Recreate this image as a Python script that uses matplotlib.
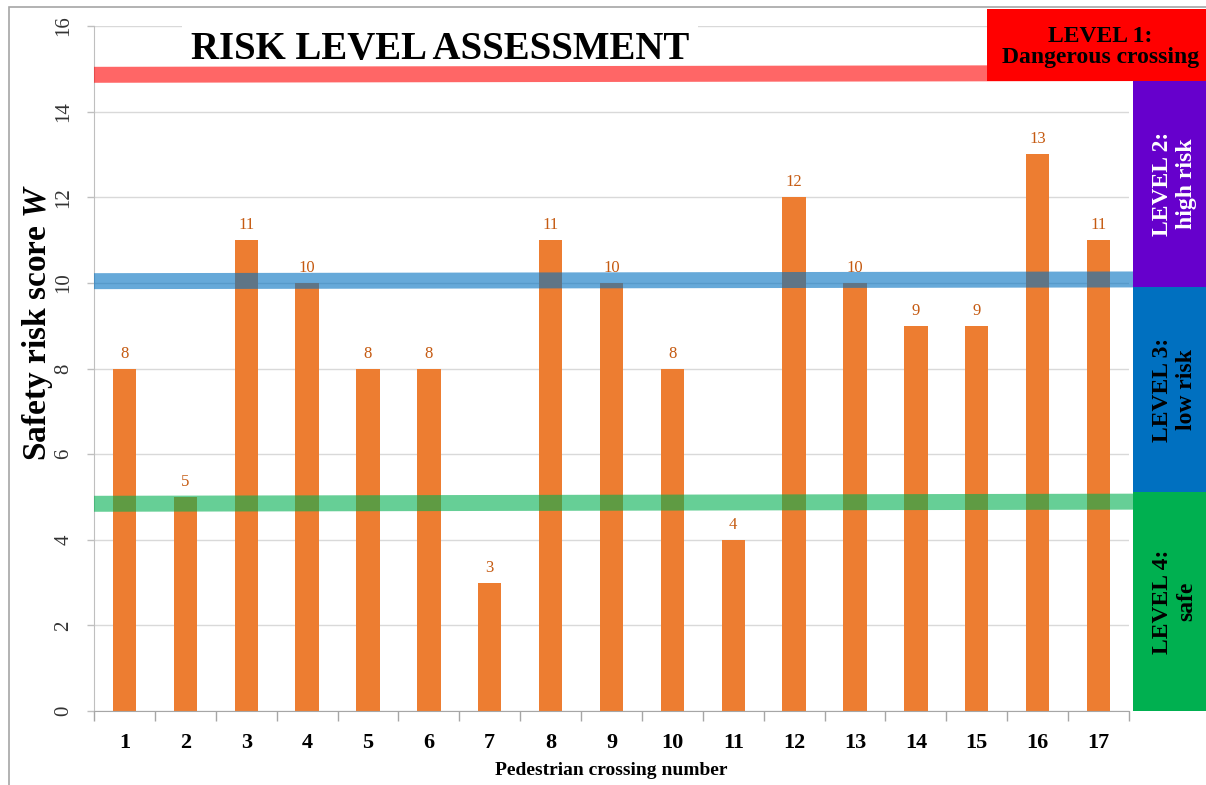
import matplotlib
matplotlib.use("Agg")
import matplotlib.pyplot as plt
from matplotlib.patches import Rectangle
from matplotlib.lines import Line2D

plt.rcParams['font.family'] = ['Liberation Serif', 'DejaVu Serif']
plt.rcParams['mathtext.fontset'] = 'custom'
plt.rcParams['mathtext.bfit'] = 'Liberation Serif:bold:italic'
plt.rcParams['mathtext.it'] = 'Liberation Serif:italic'
plt.rcParams['mathtext.bf'] = 'Liberation Serif:bold'
plt.rcParams['mathtext.rm'] = 'Liberation Serif'

# ---- data ----
crossings = [str(i) for i in range(1, 18)]
scores = [8, 5, 11, 10, 8, 8, 3, 11, 10, 8, 4, 12, 10, 9, 9, 13, 11]
y_ticks = [0, 2, 4, 6, 8, 10, 12, 14, 16]
# threshold bands (value at left end, value at right end)
red_line = (14.86, 14.90)
blue_line = (10.04, 10.08)
green_line = (4.84, 4.89)
level_labels = ["LEVEL 1:\nDangerous crossing", "LEVEL 2:\nhigh risk",
                "LEVEL 3:\nlow risk", "LEVEL 4:\nsafe"]

W, H = 1206, 785
fig = plt.figure(figsize=(W / 100, H / 100), dpi=100)

def fx(x):
    return x / W

def fy(y):
    return 1 - y / H

# figure border
fig.add_artist(Rectangle((fx(9), fy(800)), fx(1220) - fx(9), fy(7) - fy(800),
                         transform=fig.transFigure, fill=False,
                         edgecolor='#A6A6A6', linewidth=1.2, zorder=0))

ax = fig.add_axes([fx(94), fy(711), fx(1129) - fx(94), fy(26) - fy(711)])
ax.set_xlim(-0.5, len(scores) - 0.5)
ax.set_ylim(0, 16)

x = list(range(len(scores)))
bars = ax.bar(x, scores, width=0.383, color='#ED7D31', zorder=2)
for xi, v in zip(x, scores):
    ax.annotate(str(v), (xi, v), xytext=(0, 5), textcoords='offset points',
                ha='center', va='bottom', fontsize=12, color='#C55A11')

# grid
ax.set_yticks(y_ticks)
ax.set_yticklabels([str(t) for t in y_ticks], rotation=90, va='center',
                   fontsize=15, color='#333333')
ax.yaxis.grid(True, color='#D9D9D9', linewidth=1.0, zorder=0)
ax.set_axisbelow(True)
ax.tick_params(axis='y', length=5, width=1, color='#BFBFBF', pad=10)

ax.set_xticks(x)
ax.set_xticklabels(crossings, fontsize=16, fontweight='bold')
ax.tick_params(axis='x', which='major', length=0, pad=16)
ax.set_xticks([i - 0.5 for i in range(len(scores) + 1)], minor=True)
ax.tick_params(axis='x', which='minor', length=7, width=1, color='#A6A6A6')

for s in ['top', 'right']:
    ax.spines[s].set_visible(False)
ax.spines['left'].set_color('#BFBFBF')
ax.spines['bottom'].set_color('#A6A6A6')

# white backing behind the title (hides the top gridline only)
ax.add_patch(Rectangle((fx(182), fy(64)), fx(698) - fx(182), fy(14) - fy(64),
                       transform=fig.transFigure, facecolor='white',
                       edgecolor='none', zorder=1, clip_on=False))

# threshold lines
tr = ax.get_yaxis_transform()
for (v0, v1), col in [(red_line, '#FF0000'), (blue_line, '#0070C0'), (green_line, '#00B050')]:
    ax.add_line(Line2D([0, 1.004], [v0, v1], transform=tr, color=col, alpha=0.6,
                       linewidth=11.5, solid_capstyle='butt', clip_on=False, zorder=3))

# title
fig.text(fx(440), fy(59), "RISK LEVEL ASSESSMENT", ha='center', va='baseline',
         fontsize=28, fontweight='bold', color='black', zorder=5)

# axis labels
fig.text(fx(38), fy(322), r"Safety risk score $\mathbfit{W}$", rotation=90,
         ha='center', va='center', fontsize=24, fontweight='bold')
fig.text(fx(611), fy(775), "Pedestrian crossing number", ha='center', va='baseline',
         fontsize=14, fontweight='bold')

# level boxes
boxes = [
    (987, 9, 1206, 81, '#FF0000', 'black', 0),
    (1133, 81, 1206, 287, '#6600CC', 'white', 90),
    (1133, 287, 1206, 492, '#0070C0', 'black', 90),
    (1133, 492, 1206, 711, '#00B050', 'black', 90),
]
for (x0, y0, x1, y1, col, tcol, rot), lab in zip(boxes, level_labels):
    fig.add_artist(Rectangle((fx(x0), fy(y1)), fx(x1) - fx(x0), fy(y0) - fy(y1),
                             transform=fig.transFigure, facecolor=col,
                             edgecolor='none', zorder=6))
    cx = (x0 + x1) / 2 + (5 if rot else 4)
    cy = (y0 + y1) / 2 + (0 if rot else 2)
    fig.text(fx(cx), fy(cy), lab, ha='center', va='center', rotation=rot,
             fontsize=17, fontweight='bold', color=tcol,
             linespacing=1.05 if rot == 0 else 1.2,
             multialignment='center', zorder=7)

fig.savefig("out.png", dpi=100)
